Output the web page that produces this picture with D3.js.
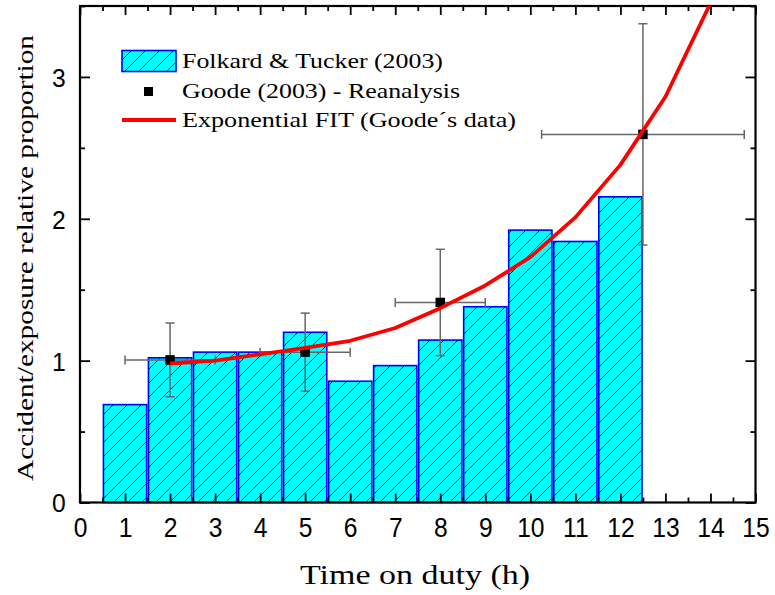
<!DOCTYPE html>
<html>
<head>
<meta charset="utf-8">
<script src="https://cdn.jsdelivr.net/npm/d3@7"></script>
<style>
  html, body { margin: 0; padding: 0; background: #fff; }
  svg { display: block; }
</style>
</head>
<body>
<svg id="chart" width="775" height="595"></svg>
<script>
// Folkard & Tucker (2003): relative accident/exposure by hour on duty
const hours = [1, 2, 3, 4, 5, 6, 7, 8, 9, 10, 11, 12];
const folkardValues = [0.69, 1.02, 1.06, 1.06, 1.20, 0.855, 0.965, 1.145, 1.38, 1.92, 1.84, 2.155];

// Goode (2003) reanalysis: points with horizontal and vertical error
const goodeX = [2, 5, 8, 12.5];
const goodeY = [1.005, 1.06, 1.41, 2.595];
const goodeXErr = [1, 1, 1, 2.25];
const goodeYErr = [0.26, 0.275, 0.375, 0.78];

// Exponential fit through Goode's data
const fitX = [2, 3, 4, 5, 6, 7, 8, 9, 10, 11, 12, 13, 14];
const fitY = [0.98, 1.00, 1.045, 1.09, 1.14, 1.23, 1.37, 1.53, 1.73, 2.01, 2.38, 2.86, 3.52];

const xTicks = d3.range(0, 16, 1);
const xMinorTicks = d3.range(0.5, 15, 1);
const yTicks = [0, 1, 2, 3];
const yMinorTicks = [0.5, 1.5, 2.5, 3.5];

const legendLabels = ["Folkard & Tucker (2003)", "Goode (2003) - Reanalysis", "Exponential FIT (Goode\u00b4s data)"];

const svg = d3.select("#chart");
const pLeft = 80, pRight = 755.5, pTop = 6, pBottom = 502.5;

const x = d3.scaleLinear().domain([0, 15]).range([pLeft, pRight]);
const y = d3.scaleLinear().domain([0, 3.5]).range([pBottom, pTop]);

const defs = svg.append("defs");
const pat = defs.append("pattern")
  .attr("id", "hatch").attr("patternUnits", "userSpaceOnUse")
  .attr("width", 14).attr("height", 14);
pat.append("rect").attr("width", 14).attr("height", 14).attr("fill", "#00ffff");
pat.append("path")
  .attr("d", "M0,14 L14,0 M-2,2 L2,-2 M12,16 L16,12")
  .attr("stroke", "#0000ff").attr("stroke-width", 1);

defs.append("clipPath").attr("id", "plotClip")
  .append("rect").attr("x", pLeft).attr("y", pTop)
  .attr("width", pRight - pLeft).attr("height", pBottom - pTop);

// Bars
const barW = 0.96;
svg.append("g").selectAll("rect")
  .data(hours.map((h, i) => ({ h, v: folkardValues[i] })))
  .join("rect")
  .attr("x", d => x(d.h - barW / 2))
  .attr("width", d => x(d.h + barW / 2) - x(d.h - barW / 2))
  .attr("y", d => y(d.v))
  .attr("height", d => y(0) - y(d.v))
  .attr("fill", "url(#hatch)")
  .attr("stroke", "#0000ff")
  .attr("stroke-width", 1.6);

// Axes (ticks drawn inward on all four sides)
function styleAxis(g) {
  g.select(".domain").remove();
  g.selectAll(".tick line").attr("stroke", "#000").attr("stroke-width", 1.8);
}
const tickFont = "Liberation Sans";

const gxB = svg.append("g").attr("transform", `translate(0,${pBottom})`)
  .call(d3.axisBottom(x).tickValues(xTicks).tickSize(-9).tickPadding(0).tickFormat(d3.format("d")));
styleAxis(gxB);
gxB.selectAll(".tick text")
  .attr("y", 35).attr("dy", null)
  .attr("fill", "#000")
  .style("font-family", tickFont).style("font-size", "28px")
  .attr("transform", "scale(0.88,1)");
svg.append("g").attr("transform", `translate(0,${pBottom})`)
  .call(d3.axisBottom(x).tickValues(xMinorTicks).tickSize(-5).tickFormat(""))
  .call(styleAxis);

svg.append("g").attr("transform", `translate(0,${pTop})`)
  .call(d3.axisTop(x).tickValues(xTicks).tickSize(-9).tickFormat(""))
  .call(styleAxis);
svg.append("g").attr("transform", `translate(0,${pTop})`)
  .call(d3.axisTop(x).tickValues(xMinorTicks).tickSize(-5).tickFormat(""))
  .call(styleAxis);

const gyL = svg.append("g").attr("transform", `translate(${pLeft},0)`)
  .call(d3.axisLeft(y).tickValues(yTicks).tickSize(-10).tickPadding(0).tickFormat(d3.format("d")));
styleAxis(gyL);
gyL.selectAll(".tick text")
  .attr("x", -15).attr("dy", "0.36em")
  .attr("fill", "#000")
  .style("font-family", tickFont).style("font-size", "26px")
  .attr("transform", "scale(0.95,1)");
svg.append("g").attr("transform", `translate(${pLeft},0)`)
  .call(d3.axisLeft(y).tickValues(yMinorTicks).tickSize(-5).tickFormat(""))
  .call(styleAxis);

svg.append("g").attr("transform", `translate(${pRight},0)`)
  .call(d3.axisRight(y).tickValues(yTicks).tickSize(-10).tickFormat(""))
  .call(styleAxis);
svg.append("g").attr("transform", `translate(${pRight},0)`)
  .call(d3.axisRight(y).tickValues(yMinorTicks).tickSize(-5).tickFormat(""))
  .call(styleAxis);

// Frame
svg.append("rect")
  .attr("x", pLeft).attr("y", pTop)
  .attr("width", pRight - pLeft).attr("height", pBottom - pTop)
  .attr("fill", "none").attr("stroke", "#000").attr("stroke-width", 2.2);

// Error bars
const goode = goodeX.map((gx, i) => ({ x: gx, y: goodeY[i], ex: goodeXErr[i], ey: goodeYErr[i] }));
const err = svg.append("g").attr("stroke", "#666").attr("stroke-width", 1.5).attr("fill", "none");
const cap = 4.5;
goode.forEach(d => {
  err.append("line").attr("x1", x(d.x - d.ex)).attr("x2", x(d.x + d.ex)).attr("y1", y(d.y)).attr("y2", y(d.y));
  err.append("line").attr("x1", x(d.x - d.ex)).attr("x2", x(d.x - d.ex)).attr("y1", y(d.y) - cap).attr("y2", y(d.y) + cap);
  err.append("line").attr("x1", x(d.x + d.ex)).attr("x2", x(d.x + d.ex)).attr("y1", y(d.y) - cap).attr("y2", y(d.y) + cap);
  err.append("line").attr("x1", x(d.x)).attr("x2", x(d.x)).attr("y1", y(d.y - d.ey)).attr("y2", y(d.y + d.ey));
  err.append("line").attr("x1", x(d.x) - cap).attr("x2", x(d.x) + cap).attr("y1", y(d.y + d.ey)).attr("y2", y(d.y + d.ey));
  err.append("line").attr("x1", x(d.x) - cap).attr("x2", x(d.x) + cap).attr("y1", y(d.y - d.ey)).attr("y2", y(d.y - d.ey));
});

// Markers
const ms = 9.5;
svg.append("g").selectAll("rect")
  .data(goode).join("rect")
  .attr("x", d => x(d.x) - ms / 2).attr("y", d => y(d.y) - ms / 2)
  .attr("width", ms).attr("height", ms).attr("fill", "#000");

// Exponential fit line
const line = d3.line().x(d => x(d[0])).y(d => y(d[1]));
svg.append("path")
  .datum(fitX.map((fx, i) => [fx, fitY[i]]))
  .attr("clip-path", "url(#plotClip)")
  .attr("d", line)
  .attr("fill", "none").attr("stroke", "#ff0000").attr("stroke-width", 3.8)
  .attr("stroke-linejoin", "round");

// Legend
const serif = "Liberation Serif";
const lg = svg.append("g");
lg.append("rect").attr("x", 122).attr("y", 50.5).attr("width", 54).attr("height", 21)
  .attr("fill", "url(#hatch)").attr("stroke", "#0000ff").attr("stroke-width", 1.6);
lg.append("rect").attr("x", 148.5 - 4.5).attr("y", 91.5 - 4.5).attr("width", 9).attr("height", 9).attr("fill", "#000");
lg.append("line").attr("x1", 122).attr("x2", 176).attr("y1", 120).attr("y2", 120)
  .attr("stroke", "#ff0000").attr("stroke-width", 3.8);
const legendY = [68, 97.5, 126.5];
const legendW = [261, 278, 334];
lg.selectAll("text").data(legendLabels).join("text")
  .attr("x", 182).attr("y", (d, i) => legendY[i])
  .attr("textLength", (d, i) => legendW[i])
  .attr("lengthAdjust", "spacingAndGlyphs")
  .style("font-family", serif).style("font-size", "21px").attr("fill", "#000")
  .text(d => d);

// Axis titles
svg.append("text")
  .attr("x", 415).attr("y", 583.5)
  .attr("text-anchor", "middle")
  .attr("textLength", 230).attr("lengthAdjust", "spacingAndGlyphs")
  .style("font-family", serif).style("font-size", "27px").attr("fill", "#000")
  .text("Time on duty (h)");

svg.append("text")
  .attr("transform", "translate(33,258) rotate(-90)")
  .attr("text-anchor", "middle")
  .attr("textLength", 446).attr("lengthAdjust", "spacingAndGlyphs")
  .style("font-family", serif).style("font-size", "23px").attr("fill", "#000")
  .text("Accident/exposure relative proportion");
</script>
</body>
</html>
